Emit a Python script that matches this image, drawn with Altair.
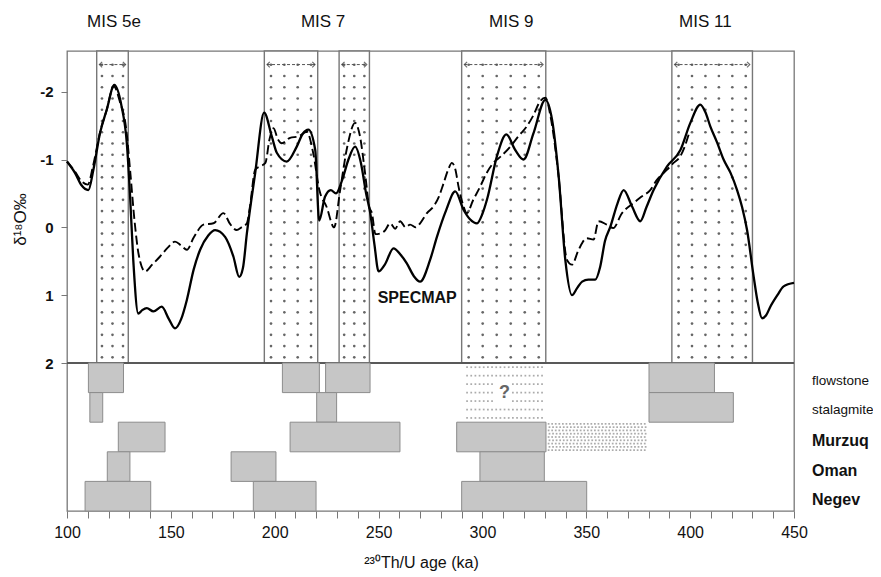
import altair as alt
import pandas as pd
import numpy as np

# ---------------- data ----------------
solid_age = [100, 103.9, 107, 110.3, 112.7, 115.9, 119.1, 122.8, 126.3, 128.8, 130.3, 131.9, 134.3, 136.2,
             138.4, 141.6, 145.6, 149, 152, 155, 157.7, 161, 164.1, 168, 171.3, 176.1, 180.1, 182.9, 184.7,
             186.6, 190.6, 194.9, 198.6, 201, 205.8, 210.6, 213.5, 216.2, 219.5, 221.4, 224.2, 227, 229.5,
             232.5, 235.5, 238.7, 241.5, 244, 246, 248, 250, 253, 257.2, 260.5, 263.6, 267, 270, 274.8, 278.1,
             282.5, 286.9, 290.9, 294, 297.4, 300, 302.2, 307, 311.5, 315.8, 319.8, 324.6, 330.3, 333.5, 336.7,
             339.9, 343.1, 345.5, 348, 351, 354.3, 356.7, 359, 361.6, 365, 368, 372, 376, 379, 382.4, 388.9,
             395.3, 400.1, 404.9, 407.3, 409.7, 413, 416.1, 419.5, 422.6, 425, 427.4, 430.6, 432.5, 434.6,
             436.5, 438.6, 442, 445, 450]
solid_d18o = [-0.97, -0.80, -0.62, -0.55, -0.85, -1.39, -1.73, -2.10, -1.78, -1.24, -0.50, 0.48, 1.27, 1.22,
              1.19, 1.24, 1.17, 1.35, 1.49, 1.35, 1.07, 0.62, 0.33, 0.12, 0.04, 0.14, 0.43, 0.73, 0.60,
              0.09, -0.80, -1.69, -1.34, -1.10, -0.97, -1.19, -1.38, -1.44, -1.14, -0.10, -0.45, -0.55, -0.5,
              -0.7, -1.0, -1.19, -0.95, -0.5, -0.21, 0.25, 0.65, 0.55, 0.31, 0.40, 0.53, 0.72, 0.80, 0.48, 0.14,
              -0.25, -0.53, -0.26, -0.12, -0.06, -0.2, -0.41, -1.05, -1.37, -1.14, -1.0, -1.39, -1.88, -1.59, -0.75,
              0.48, 1.0, 0.9, 0.8, 0.77, 0.77, 0.58, 0.2, -0.01, -0.35, -0.55, -0.31, -0.09, -0.3, -0.55, -0.90,
              -1.14, -1.54, -1.81, -1.7, -1.49, -1.25, -1.0, -0.8, -0.55, -0.3, 0.04, 0.73, 1.1, 1.34,
              1.3, 1.17, 1.0, 0.87, 0.82]

dashed_age = [100, 103.9, 107, 110, 112.5, 115.9, 119.1, 122.5, 125.5, 128.5, 130.5, 132.5, 134.5, 137.6, 141,
              144.8, 148.5, 152, 155, 157.7, 161, 165.7, 170.5, 175.3, 178.5, 181.7, 184, 186.6, 188.1, 190.6,
              193, 195.5, 197.5, 199.4, 201.5, 203.4, 207.4, 211.4, 215.5, 218.5, 221.5, 225, 228.6, 231.5, 235,
              238.7, 241, 243.5, 245.5, 246.8, 248.5, 250.8, 253, 255.6, 258, 260.4, 263, 265.2, 268, 270, 273.3,
              276.5, 279, 281.3, 283.5, 285.3, 287, 288.5, 290.5, 292.5, 295.5, 298.9, 302, 305.3, 309, 313.4,
              317.5, 321.4, 324.5, 327.8, 330.3, 333, 336.5, 340.7, 343.1, 346.3, 350.3, 353.5, 355.9, 359.9,
              363, 367, 372.8, 376.5, 380.8, 384, 388.9, 392, 395.3, 397.5, 399.3]
dashed_d18o = [-0.97, -0.82, -0.68, -0.63, -0.9, -1.40, -1.73, -2.08, -1.85, -1.45, -0.8, -0.1, 0.4, 0.65, 0.55,
               0.43, 0.30, 0.21, 0.27, 0.33, 0.15, -0.04, -0.06, -0.21, -0.05, 0.04, 0.0, -0.06, -0.31, -0.85,
               -0.9, -0.95, -1.3, -1.46, -1.3, -1.24, -1.32, -1.34, -1.41, -1.1, -0.55, -0.3, 0.0, -0.55, -1.2,
               -1.54, -1.35, -0.8, -0.3, -0.21, 0.1, 0.09, 0.05, -0.06, 0.02, -0.09, 0.0, -0.04, 0.0, -0.06, -0.21,
               -0.31, -0.45, -0.65, -0.85, -0.95, -0.85, -0.60, -0.35, -0.21, -0.40, -0.60, -0.80, -0.95, -1.05,
               -1.19, -1.35, -1.49, -1.65, -1.86, -1.91, -1.6, -0.8, 0.48, 0.55, 0.33, 0.16, 0.18, -0.09, -0.04,
               0.01, -0.2, -0.36, -0.45, -0.55, -0.70, -0.85, -0.95, -1.05, -1.2, -1.37]

# interglacial (MIS) bands
mis_start = [114.3, 195.0, 231.0, 290.0, 391.2]
mis_end = [129.5, 220.7, 245.6, 330.5, 430.0]
mis_names = ["MIS 5e", "MIS 7", "MIS 9", "MIS 11"]
mis_name_age = [122.6, 223.3, 313.9, 407.3]

# lower panel: growth / humid periods
rows = ["flowstone", "stalagmite", "Murzuq", "Oman", "Negev"]
bar_row = ["flowstone", "flowstone", "flowstone", "flowstone",
           "stalagmite", "stalagmite", "stalagmite",
           "Murzuq", "Murzuq", "Murzuq",
           "Oman", "Oman", "Oman",
           "Negev", "Negev", "Negev"]
bar_start = [110.3, 203.7, 224.5, 380.2,
             111.0, 220.2, 380.2,
             124.7, 207.4, 287.6,
             119.4, 179.0, 298.8,
             108.7, 189.7, 290.0]
bar_end = [127.2, 221.5, 245.9, 411.7,
           117.2, 229.8, 420.8,
           147.2, 260.3, 330.6,
           130.3, 200.6, 329.8,
           140.3, 219.9, 350.2]

# uncertain (dotted) periods in the lower panel
unc_start = [291.6, 331.0]
unc_end = [329.7, 379.0]
unc_first_row = ["flowstone", "Murzuq"]
unc_last_row = ["stalagmite", "Murzuq"]

# ---------------- tables ----------------
solid_df = pd.DataFrame({"age": solid_age, "d18o": solid_d18o})
dashed_df = pd.DataFrame({"age": dashed_age, "d18o": dashed_d18o})
band_df = pd.DataFrame({"start": mis_start, "end": mis_end})
band_df["a0"] = band_df["start"] + 1.3
band_df["a1"] = band_df["end"] - 1.3
label_df = pd.DataFrame({"name": mis_names, "age": mis_name_age})

row_index = {r: i for i, r in enumerate(rows)}
bar_df = pd.DataFrame({"row": bar_row, "start": bar_start, "end": bar_end})
bar_df["top"] = bar_df["row"].map(row_index)
bar_df["bottom"] = bar_df["top"] + 1
row_df = pd.DataFrame({"row": rows, "center": [row_index[r] + 0.5 for r in rows]})

Y_TOP, Y_BOT = -2.6, 2.0


def grid(x0, x1, y0, y1, nx, ny, stagger=False):
    pts = []
    for j in range(ny):
        yy = y0 + (j + 0.5) * (y1 - y0) / ny
        off = 0.25 if (stagger and j % 2) else 0.0
        for k in range(nx):
            xx = x0 + (k + 0.5 + off) * (x1 - x0) / nx
            if xx < x1:
                pts.append((xx, yy))
    return pts


band_dots = []
for s, e in zip(mis_start, mis_end):
    n = max(3, int(round((e - s) / 6.5)))
    band_dots += grid(s, e, Y_TOP + 0.12, Y_BOT, n, 27)
band_dot_df = pd.DataFrame(band_dots, columns=["age", "v"])

unc_dots = []
for i, (s, e, r0, r1) in enumerate(zip(unc_start, unc_end, unc_first_row, unc_last_row)):
    t, b = row_index[r0], row_index[r1] + 1
    if i == 0:
        for (xx, yy) in grid(s, e, t, b, 19, 7):
            if abs(xx - 310) < 4 and abs(yy - 1.0) < 0.3:
                continue
            unc_dots.append((xx, yy))
    else:
        unc_dots += grid(s, e, t, b, 28, 9, stagger=True)
unc_dot_df = pd.DataFrame(unc_dots, columns=["age", "r"])
q_df = pd.DataFrame({"age": [(unc_start[0] + unc_end[0]) / 2], "r": [1.0], "t": ["?"]})

# ---------------- scales / axes ----------------
FONT = "Liberation Sans"
xscale = alt.Scale(domain=[100, 450], nice=False, zero=False)
yup = alt.Scale(domain=[Y_TOP, Y_BOT], range=[0, 312], nice=False, zero=False)
ylow = alt.Scale(domain=[0, 5], range=[312, 460], nice=False, zero=False)

xaxis = alt.Axis(values=list(range(100, 451, 10)),
                 labelExpr="datum.value % 50 == 0 ? datum.label : ''",
                 title="²³⁰Th/U age (ka)", titleFontSize=16, titleFontWeight="normal",
                 titlePadding=14, titleX=354, labelFontSize=16, labelPadding=6,
                 tickSize=7, tickColor="#777", domain=False, grid=False,
                 labelOverlap=False, labelFlush=False, labelColor="#111", titleColor="#111")
yaxis = alt.Axis(values=[-2, -1, 0, 1, 2],
                 labelExpr="datum.value < 0 ? '-' + abs(datum.value) : '' + datum.value",
                 title="δ¹⁸O‰", titleFontSize=17, titleFontWeight="normal", titleColor="#111",
                 titlePadding=10, titleY=168,
                 labelFontSize=15, labelFontWeight="bold", labelColor="#111", labelPadding=8,
                 tickSize=6, tickColor="#777", domain=False, grid=False)


def X(field):
    return alt.X(field, type="quantitative", scale=xscale, axis=xaxis)


# ---------------- upper panel ----------------
boxes = alt.Chart(band_df).mark_rect(fill="white", stroke="#777", strokeWidth=1.4).encode(
    x=X("start"), x2="end",
    y=alt.Y(datum=Y_TOP, type="quantitative", scale=yup, axis=yaxis),
    y2=alt.Y2(datum=Y_BOT))

dots = alt.Chart(band_dot_df).mark_circle(size=7, color="#555", opacity=0.9).encode(
    x=X("age"), y=alt.Y("v:Q", scale=yup, axis=yaxis))

arrow_line = alt.Chart(band_df).mark_rule(color="#555", strokeWidth=1, strokeDash=[3, 2]).encode(
    x=X("a0"), x2="a1", y=alt.Y(datum=-2.4, type="quantitative", scale=yup, axis=yaxis))
arrow_l = alt.Chart(band_df).mark_point(shape="M 1 -1 L 0 0 L 1 1", filled=False, size=30,
                                        color="#333", strokeWidth=1.2).encode(
    x=X("a0"), y=alt.Y(datum=-2.4, type="quantitative", scale=yup, axis=yaxis))
arrow_r = alt.Chart(band_df).mark_point(shape="M -1 -1 L 0 0 L -1 1", filled=False, size=30,
                                        color="#333", strokeWidth=1.2).encode(
    x=X("a1"), y=alt.Y(datum=-2.4, type="quantitative", scale=yup, axis=yaxis))

divider = alt.Chart(band_df).mark_rule(color="#555", strokeWidth=1.2).encode(
    y=alt.Y(datum=Y_BOT, type="quantitative", scale=yup, axis=yaxis))

solid = alt.Chart(solid_df).mark_line(color="black", strokeWidth=2.3, interpolate="monotone").encode(
    x=X("age"), y=alt.Y("d18o:Q", scale=yup, axis=yaxis))
dashed = alt.Chart(dashed_df).mark_line(color="black", strokeWidth=1.9, strokeDash=[9, 4],
                                        interpolate="monotone").encode(
    x=X("age"), y=alt.Y("d18o:Q", scale=yup, axis=yaxis))

specmap = alt.Chart(pd.DataFrame({"age": [268.6], "v": [1.04], "t": ["SPECMAP"]})).mark_text(
    font=FONT, fontSize=16, fontWeight="bold", color="#111").encode(
    x=X("age"), y=alt.Y("v:Q", scale=yup, axis=yaxis), text="t:N")

mis_text = alt.Chart(label_df).mark_text(font=FONT, fontSize=17, color="#111", baseline="middle").encode(
    x=X("age"), y=alt.value(-29), text="name:N")

upper = alt.layer(boxes, dots, arrow_line, arrow_l, arrow_r, divider, dashed, solid, specmap, mis_text)

# ---------------- lower panel ----------------
bars = alt.Chart(bar_df).mark_rect(fill="#c6c6c6", stroke="#8c8c8c", strokeWidth=1).encode(
    x=X("start"), x2="end",
    y=alt.Y("top:Q", scale=ylow, axis=None), y2="bottom:Q")
udots = alt.Chart(unc_dot_df).mark_square(size=3, color="#888").encode(
    x=X("age"), y=alt.Y("r:Q", scale=ylow, axis=None))
qmark = alt.Chart(q_df).mark_text(font=FONT, fontSize=18, fontWeight="bold", color="#666").encode(
    x=X("age"), y=alt.Y("r:Q", scale=ylow, axis=None), text="t:N")

row_small = alt.Chart(row_df.iloc[:2]).mark_text(font=FONT, fontSize=13.5, color="#111", align="left",
                                                 dy=3).encode(
    x=alt.value(745), y=alt.Y("center:Q", scale=ylow, axis=None), text="row:N")
row_big = alt.Chart(row_df.iloc[2:]).mark_text(font=FONT, fontSize=16, fontWeight="bold", color="#111",
                                               align="left", dy=4).encode(
    x=alt.value(745), y=alt.Y("center:Q", scale=ylow, axis=None), text="row:N")

lower = alt.layer(bars, udots, qmark, row_small, row_big)

chart = alt.layer(upper, lower).resolve_scale(y="independent").properties(
    width=727, height=460,
    autosize=alt.AutoSizeParams(type="none"),
    padding={"left": 59, "top": 43, "right": 79, "bottom": 66},
    background="white",
).configure_view(stroke="#777", strokeWidth=1.3).configure_axis(labelFont=FONT, titleFont=FONT)

chart.save("out.html", embed_options={"renderer": "svg", "actions": False})
